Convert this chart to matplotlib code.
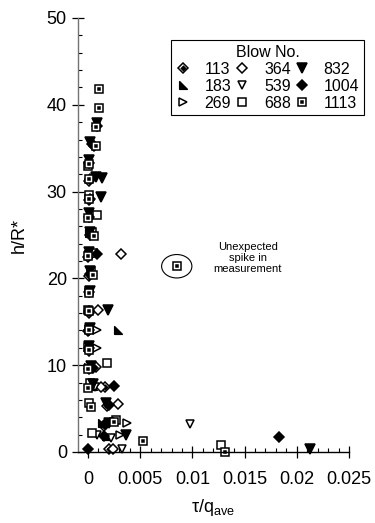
import matplotlib
matplotlib.use("Agg")
import matplotlib.pyplot as plt
from matplotlib.path import Path
from matplotlib.legend_handler import HandlerTuple
from matplotlib.patches import Ellipse
from matplotlib.ticker import MultipleLocator, FixedLocator

plt.rcParams['font.family'] = ['Liberation Sans', 'DejaVu Sans']
plt.rcParams['mathtext.default'] = 'regular'

# ---- data (tau/q_ave, h/R*) per blow number ----
blows = ["113", "183", "269", "364", "539", "688", "832", "1004", "1113"]

x113 = [0.0004, 0.0001, 0.0001, 0.0002, 0.0000, 0.0001, 0.0001, 0.0000, 0.0001, 0.0001, 0.0016, 0.0018, 0.0015, 0.0020]
h113 = [35.5, 31.2, 29.0, 25.0, 22.5, 20.3, 16.0, 13.9, 11.6, 9.6, 7.5, 5.3, 3.0, 0.4]

x183 = [0.0001, 0.0000, 0.0029, 0.0000, 0.0005, 0.0013, 0.0017]
h183 = [25.2, 22.8, 14.0, 9.8, 7.6, 3.3, 1.8]

x269 = [0.0009, 0.0009, 0.0004, 0.0037, 0.0031]
h269 = [14.1, 12.0, 9.9, 3.3, 2.0]

x364 = [0.0032, 0.0010, 0.0008, 0.0012, 0.0029, 0.0024]
h364 = [22.8, 16.4, 9.8, 7.5, 5.5, 0.4]

x539 = [0.0007, 0.0098, 0.0009, 0.0022, 0.0033]
h539 = [7.5, 3.2, 2.0, 1.6, 0.3]

x688 = [0.0000, 0.0001, 0.0009, 0.0004, 0.0005, 0.0003, 0.0001, 0.0000, 0.0001, 0.0000, 0.0018, 0.0002, 0.0001, 0.0027, 0.0004, 0.0127]
h688 = [33.0, 29.6, 27.3, 25.3, 22.9, 20.8, 18.6, 16.4, 14.2, 12.1, 10.2, 7.9, 5.6, 3.7, 2.2, 0.8]

x832 = [0.0009, 0.0002, 0.0001, 0.0008, 0.0013, 0.0012, 0.0001, 0.0002, 0.0001, 0.0002, 0.0002, 0.0019, 0.0002, 0.0001, 0.0003, 0.0005, 0.0017, 0.0020, 0.0036, 0.0213]
h832 = [37.9, 35.7, 33.6, 31.7, 31.6, 29.4, 27.5, 25.4, 23.0, 20.8, 18.6, 16.4, 14.3, 12.2, 9.9, 7.8, 5.6, 3.3, 2.0, 0.4]

x1004 = [0.0009, 0.0006, 0.0001, 0.0002, 0.0002, 0.0001, 0.0003, 0.0009, 0.0002, 0.0001, 0.0001, 0.0001, 0.0001, 0.0005, 0.0025, 0.0020, 0.0016, 0.0015, 0.0183, 0.0000]
h1004 = [37.6, 35.3, 33.3, 31.4, 29.2, 27.1, 25.1, 22.8, 20.5, 18.4, 16.2, 14.0, 12.0, 9.7, 7.6, 5.4, 3.2, 1.9, 1.7, 0.4]

x1113 = [0.00105, 0.00105, 0.0008, 0.0008, 0.0001, 0.0001, 0.0001, 0.0000, 0.0006, 0.0000, 0.0085, 0.0005, 0.0001, 0.0001, 0.0001, 0.0001, 0.0000, 0.0000, 0.0003, 0.0025, 0.0053, 0.0131]
h1113 = [41.8, 39.6, 37.5, 35.3, 33.2, 31.5, 29.2, 27.0, 24.9, 22.6, 21.4, 20.4, 18.3, 16.2, 14.0, 11.8, 9.6, 7.4, 5.2, 3.5, 1.3, 0.0]

spike_x, spike_h = 0.0085, 21.4
note_text = "Unexpected\nspike in\nmeasurement"

series_x = [x113, x183, x269, x364, x539, x688, x832, x1004, x1113]
series_h = [h113, h183, h269, h364, h539, h688, h832, h1004, h1113]

# ---- marker styles ----
tri_ll = Path([(-1, -1), (1, -1), (-1, 1), (-1, -1)],
              [Path.MOVETO, Path.LINETO, Path.LINETO, Path.CLOSEPOLY])

# each style: list of layers (marker, size, facecolor)
styles = [
    [("D", 5.0, "white"), ("D", 2.2, "black")],   # 113
    [(tri_ll, 5.5, "black")],                      # 183
    [(">", 5.8, "white")],                         # 269
    [("D", 5.0, "white")],                         # 364
    [("v", 6.2, "white")],                         # 539
    [("s", 5.6, "white")],                         # 688
    [("v", 6.6, "black")],                         # 832
    [("D", 5.0, "black")],                         # 1004
    [("s", 5.6, "white"), ("s", 2.0, "black")],   # 1113
]

W, H = 375, 523
fig = plt.figure(figsize=(W / 100, H / 100), dpi=100)
ax = fig.add_axes([78 / W, 1 - 452 / H, (349 - 78) / W, (452 - 18) / H])

handles = []
for xs, hs, st in zip(series_x, series_h, styles):
    layer_handles = []
    for mk, ms, fc in st:
        ln, = ax.plot(xs, hs, linestyle="none", marker=mk, markersize=ms,
                      markerfacecolor=fc, markeredgecolor="black",
                      markeredgewidth=1.1, clip_on=False)
        layer_handles.append(ln)
    handles.append(tuple(layer_handles))

# annotation ellipse and text
ax.add_patch(Ellipse((spike_x, spike_h), width=0.0029, height=2.7,
                     fill=False, edgecolor="black", linewidth=0.8))
ax.text(0.0153, 22.35, note_text, ha="center", va="center",
        fontsize=8, linespacing=1.15)

ax.set_xlim(-0.00096, 0.025)
ax.set_ylim(0, 50)
ax.xaxis.set_major_locator(FixedLocator([0, 0.005, 0.01, 0.015, 0.02, 0.025]))
ax.set_xticklabels(["0", "0.005", "0.01", "0.015", "0.02", "0.025"])
ax.xaxis.set_minor_locator(MultipleLocator(0.001))
ax.yaxis.set_major_locator(MultipleLocator(10))
ax.yaxis.set_minor_locator(MultipleLocator(2))

for s in ["top", "right"]:
    ax.spines[s].set_visible(False)
ax.spines["left"].set_color("0.45")
ax.spines["left"].set_linewidth(1.0)
ax.spines["bottom"].set_linewidth(1.0)

ax.tick_params(which="major", direction="inout", length=8, width=0.9,
               labelsize=13, pad=4)
ax.tick_params(which="minor", direction="in", length=3, width=0.8)
ax.tick_params(axis="x", which="major", pad=10)

ax.set_xlabel(r"τ/q$_{ave}$", fontsize=13, labelpad=6)
ax.set_ylabel("h/R*", fontsize=13, labelpad=14)

leg = fig.legend(handles, blows, title="Blow No.", ncol=3,
                 loc="upper left", bbox_to_anchor=(171 / W, 1 - 40 / H),
                 borderaxespad=0,
                 fontsize=11.5, title_fontsize=11.5,
                 handler_map={tuple: HandlerTuple(ndivide=1)},
                 handlelength=0.9, handletextpad=0.9, columnspacing=0.25,
                 labelspacing=0.12, borderpad=0.3, fancybox=False,
                 frameon=True, edgecolor="black", framealpha=1)
leg.get_frame().set_linewidth(0.8)

fig.savefig("out.png", dpi=100)
